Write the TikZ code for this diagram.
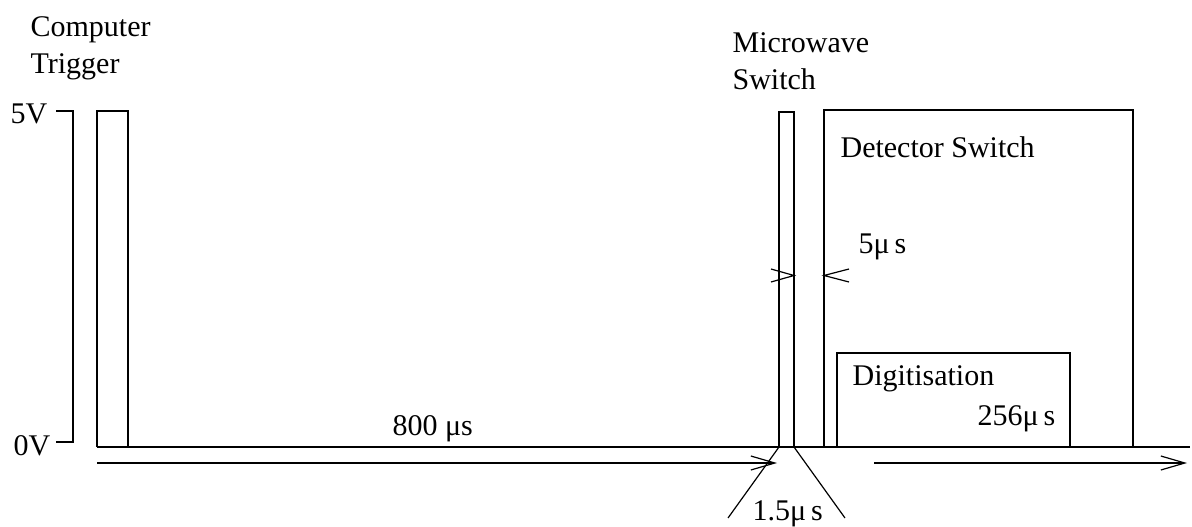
\documentclass[tikz,border=0pt]{standalone}
\usepackage{fontspec}
\setmainfont{Liberation Serif}
\usetikzlibrary{arrows.meta}

\begin{document}
\begin{tikzpicture}[
        x=1pt, y=-1pt,
        line width=1.2pt,
        lbl/.style={anchor=base west, inner sep=0pt, align=left, font=\fontsize{30}{37}\selectfont},
        timearrow/.style={-{Straight Barb[length=24pt, width=14pt, line width=1.2pt]}},
        pulse/.style={line join=miter}
    ]
        \useasboundingbox (0,0) rectangle (1192,527);

        % time points
        \coordinate (start) at (97,463);
        \coordinate (mwend) at (777,463);
        \coordinate (restart) at (874,463);
        \coordinate (tend) at (1187,463);

        % labels (base of last line)
        \node[lbl] (trig) at (30,74) {Computer\\Trigger};
        \node[lbl] (mw) at (732,89) {Microwave\\Switch};
        \node[lbl] (five) at (10,123) {5V};
        \node[lbl] (zero) at (13,455) {0V};
        \node[lbl] (det) at (840,157) {Detector Switch};
        \node[lbl] (width) at (858,253) {5μ\,s};
        \node[lbl] (digi) at (852,385) {Digitisation};
        \node[lbl] (digit) at (977,425) {256μ\,s};
        \node[lbl] (delay) at (392,435) {800 μs};
        \node[lbl] (mwt) at (752,520) {1.5μ\,s};

        % voltage axis
        \draw (56,111) -- (73,111) -- (73,442) -- (56,442);

        % baseline and pulses
        \draw (97,447) -- (1190,447);
        \draw[pulse] (97,447) -- (97,111) -- (128,111) -- (128,447);
        \draw[pulse] (779,447) -- (779,112) -- (794,112) -- (794,447);
        \draw[line width=2.6pt] (779,447) -- (794,447);
        \draw[pulse] (824,447) -- (824,110) -- (1133,110) -- (1133,447);
        \draw[pulse] (837,447) -- (837,353) -- (1070,353) -- (1070,447);

        % gap marks
        \draw (771,269) -- (794,275.5) -- (771,282);
        \draw (849,269) -- (824,275.5) -- (849,282);

        % pulse width marks
        \draw (779,447) -- (728,518);
        \draw (794,447) -- (845,518);

        % time arrows
        \draw[timearrow] (start) -- (mwend);
        \draw[timearrow] (restart) -- (tend);
\end{tikzpicture}
\end{document}
